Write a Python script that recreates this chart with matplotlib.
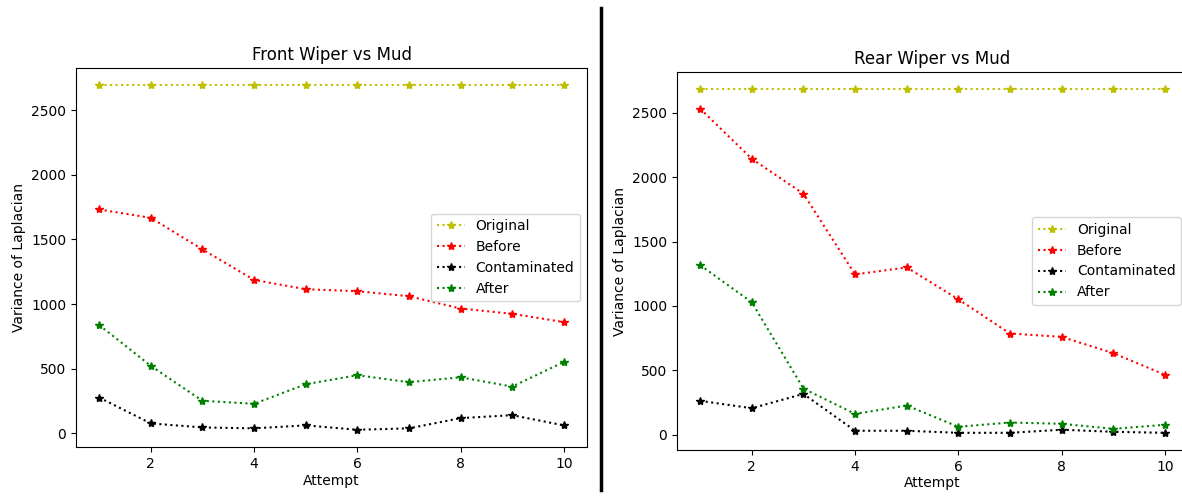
import matplotlib.pyplot as plt
from matplotlib.lines import Line2D

# attempts 1..10
attempts = [1, 2, 3, 4, 5, 6, 7, 8, 9, 10]

# front wiper
front_original = [2693] * 10
front_before = [1732, 1667, 1423, 1187, 1115, 1100, 1061, 966, 925, 861]
front_contaminated = [277, 77, 46, 39, 62, 28, 39, 118, 141, 62]
front_after = [838, 522, 252, 229, 380, 450, 396, 434, 362, 552]

# rear wiper
rear_original = [2683] * 10
rear_before = [2531, 2142, 1871, 1245, 1299, 1052, 786, 760, 634, 466]
rear_contaminated = [263, 206, 317, 31, 31, 15, 15, 39, 23, 15]
rear_after = [1317, 1028, 358, 162, 227, 62, 95, 85, 46, 77]


def dibujar(ax, original, before, contaminated, after, titulo):
    ax.plot(attempts, original, "y:*", label="Original")
    ax.plot(attempts, before, "r:*", label="Before")
    ax.plot(attempts, contaminated, "k:*", label="Contaminated")
    ax.plot(attempts, after, "g:*", label="After")
    ax.set_title(titulo)
    ax.set_xlabel("Attempt", labelpad=2)
    ax.set_ylabel("Variance of Laplacian")
    ax.set_xticks([2, 4, 6, 8, 10])
    ax.legend(loc="center right")


fig = plt.figure(figsize=(11.82, 4.96), dpi=100)
ax1 = fig.add_axes([76 / 1182, 49 / 496, 511 / 1182, 379 / 496])
ax2 = fig.add_axes([677 / 1182, 46 / 496, 511 / 1182, 378 / 496])

dibujar(ax1, front_original, front_before, front_contaminated, front_after, "Front Wiper vs Mud")
dibujar(ax2, rear_original, rear_before, rear_contaminated, rear_after, "Rear Wiper vs Mud")

# linea divisoria entre los dos graficos
fig.add_artist(Line2D([601 / 1182, 601 / 1182], [6 / 496, 488 / 496], color="black", lw=2.5))

fig.savefig("out.png", dpi=100)
